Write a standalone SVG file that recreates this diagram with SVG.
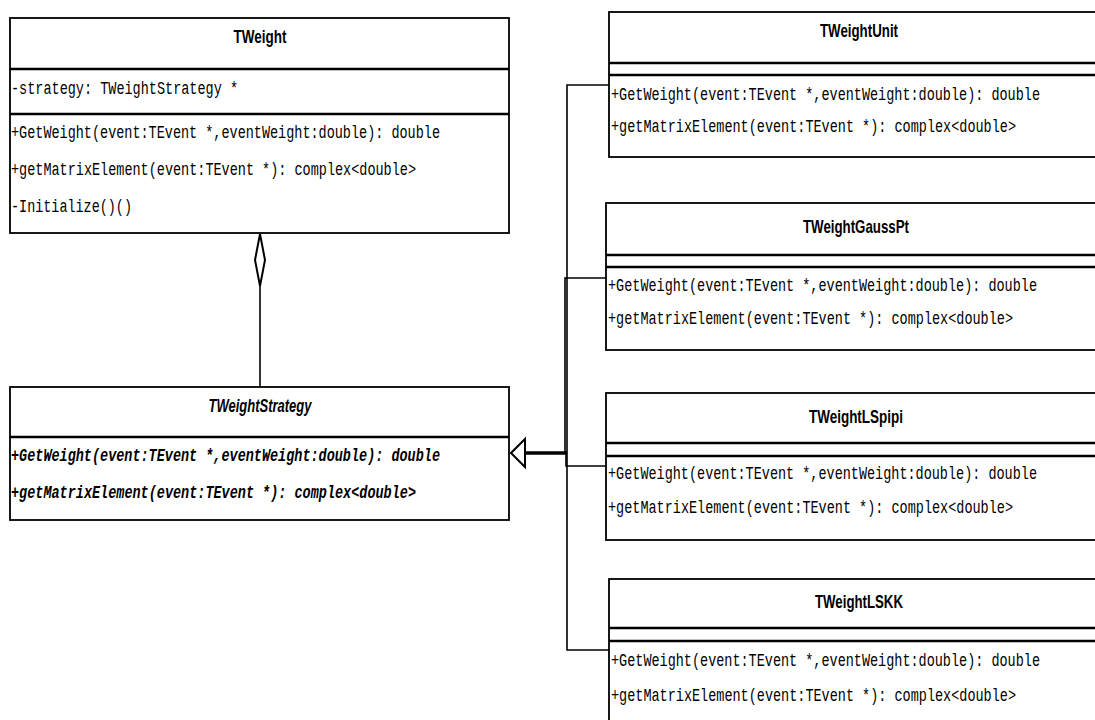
<svg xmlns="http://www.w3.org/2000/svg" width="1095" height="720" viewBox="0 0 1095 720">
  <style>
    .box { fill: #ffffff; stroke: #000000; stroke-width: 1.8; }
    .sep { stroke: #000000; stroke-width: 2.6; }
    .title { font-family: "Liberation Sans Narrow", "Liberation Sans", Arial, sans-serif; font-weight: bold; font-size: 19px; fill: #000000; text-anchor: middle; }
    .abstract { font-style: italic; }
    /* narrow, tall member font: 8.1px advance, stretched vertically per line */
    .member { font-family: "Liberation Mono", "DejaVu Sans Mono", monospace; font-size: 13.5px; fill: #000000; }
    .virtual { font-weight: bold; font-style: italic; }
    .link { fill: none; stroke: #000000; stroke-width: 1.6; }
    .head { fill: #ffffff; stroke: #000000; stroke-width: 2; stroke-linejoin: miter; }
  </style>

  <!-- connectors: aggregation and generalization -->
  <g id="connectors">
    <!-- TWeight holds a TWeightStrategy -->
    <line class="link" x1="260" y1="286" x2="260" y2="387"/>
    <polygon class="head" points="260,234 265,260 260,286 255,260"/>
    <!-- subclasses realise TWeightStrategy -->
    <polyline class="link" points="609,85 567,85 567,452 525,452"/>
    <polyline class="link" points="606,278 565,278 565,454 525,454"/>
    <polyline class="link" points="606,466 566,466 566,453 525,453"/>
    <polyline class="link" points="609,650 567,650 567,453 525,453"/>
    <polygon class="head" points="511,453 525,439 525,467"/>
  </g>

  <!-- TWeight -->
  <g id="TWeight">
    <rect class="box" x="10" y="18" width="499" height="215"/>
    <line class="sep" x1="10" y1="69" x2="509" y2="69"/>
    <line class="sep" x1="10" y1="114" x2="509" y2="114"/>
    <text class="title" x="260" y="43" textLength="53" lengthAdjust="spacingAndGlyphs">TWeight</text>
    <text class="member" transform="translate(11,94) scale(1,1.37)" textLength="227" lengthAdjust="spacingAndGlyphs">-strategy: TWeightStrategy *</text>
    <text class="member" transform="translate(11,138) scale(1,1.37)" textLength="429" lengthAdjust="spacingAndGlyphs">+GetWeight(event:TEvent *,eventWeight:double): double</text>
    <text class="member" transform="translate(11,175) scale(1,1.37)" textLength="405" lengthAdjust="spacingAndGlyphs">+getMatrixElement(event:TEvent *): complex&lt;double&gt;</text>
    <text class="member" transform="translate(11,212) scale(1,1.37)" textLength="121" lengthAdjust="spacingAndGlyphs">-Initialize()()</text>
  </g>

  <!-- TWeightStrategy (abstract) -->
  <g id="TWeightStrategy">
    <rect class="box" x="10" y="387" width="499" height="133"/>
    <line class="sep" x1="10" y1="437" x2="509" y2="437"/>
    <text class="title abstract" x="260" y="412" textLength="103" lengthAdjust="spacingAndGlyphs">TWeightStrategy</text>
    <text class="member virtual" transform="translate(11,461) scale(1,1.37)" textLength="429" lengthAdjust="spacingAndGlyphs">+GetWeight(event:TEvent *,eventWeight:double): double</text>
    <text class="member virtual" transform="translate(11,498) scale(1,1.37)" textLength="405" lengthAdjust="spacingAndGlyphs">+getMatrixElement(event:TEvent *): complex&lt;double&gt;</text>
  </g>

  <!-- TWeightUnit -->
  <g id="TWeightUnit">
    <rect class="box" x="609" y="12" width="500" height="145"/>
    <line class="sep" x1="609" y1="63" x2="1109" y2="63"/>
    <line class="sep" x1="609" y1="75" x2="1109" y2="75"/>
    <text class="title" x="859" y="37" textLength="78" lengthAdjust="spacingAndGlyphs">TWeightUnit</text>
    <text class="member" transform="translate(611,100) scale(1,1.37)" textLength="429" lengthAdjust="spacingAndGlyphs">+GetWeight(event:TEvent *,eventWeight:double): double</text>
    <text class="member" transform="translate(611,132) scale(1,1.37)" textLength="405" lengthAdjust="spacingAndGlyphs">+getMatrixElement(event:TEvent *): complex&lt;double&gt;</text>
  </g>

  <!-- TWeightGaussPt -->
  <g id="TWeightGaussPt">
    <rect class="box" x="606" y="203" width="500" height="147"/>
    <line class="sep" x1="606" y1="255" x2="1106" y2="255"/>
    <line class="sep" x1="606" y1="267" x2="1106" y2="267"/>
    <text class="title" x="856" y="233" textLength="106" lengthAdjust="spacingAndGlyphs">TWeightGaussPt</text>
    <text class="member" transform="translate(608,291) scale(1,1.37)" textLength="429" lengthAdjust="spacingAndGlyphs">+GetWeight(event:TEvent *,eventWeight:double): double</text>
    <text class="member" transform="translate(608,324) scale(1,1.37)" textLength="405" lengthAdjust="spacingAndGlyphs">+getMatrixElement(event:TEvent *): complex&lt;double&gt;</text>
  </g>

  <!-- TWeightLSpipi -->
  <g id="TWeightLSpipi">
    <rect class="box" x="606" y="393" width="500" height="147"/>
    <line class="sep" x1="606" y1="443" x2="1106" y2="443"/>
    <line class="sep" x1="606" y1="456" x2="1106" y2="456"/>
    <text class="title" x="856" y="423" textLength="94" lengthAdjust="spacingAndGlyphs">TWeightLSpipi</text>
    <text class="member" transform="translate(608,479) scale(1,1.37)" textLength="429" lengthAdjust="spacingAndGlyphs">+GetWeight(event:TEvent *,eventWeight:double): double</text>
    <text class="member" transform="translate(608,513) scale(1,1.37)" textLength="405" lengthAdjust="spacingAndGlyphs">+getMatrixElement(event:TEvent *): complex&lt;double&gt;</text>
  </g>

  <!-- TWeightLSKK -->
  <g id="TWeightLSKK">
    <rect class="box" x="609" y="579" width="500" height="147"/>
    <line class="sep" x1="609" y1="628" x2="1109" y2="628"/>
    <line class="sep" x1="609" y1="641" x2="1109" y2="641"/>
    <text class="title" x="859" y="608" textLength="88" lengthAdjust="spacingAndGlyphs">TWeightLSKK</text>
    <text class="member" transform="translate(611,666) scale(1,1.37)" textLength="429" lengthAdjust="spacingAndGlyphs">+GetWeight(event:TEvent *,eventWeight:double): double</text>
    <text class="member" transform="translate(611,701) scale(1,1.37)" textLength="405" lengthAdjust="spacingAndGlyphs">+getMatrixElement(event:TEvent *): complex&lt;double&gt;</text>
  </g>
</svg>
